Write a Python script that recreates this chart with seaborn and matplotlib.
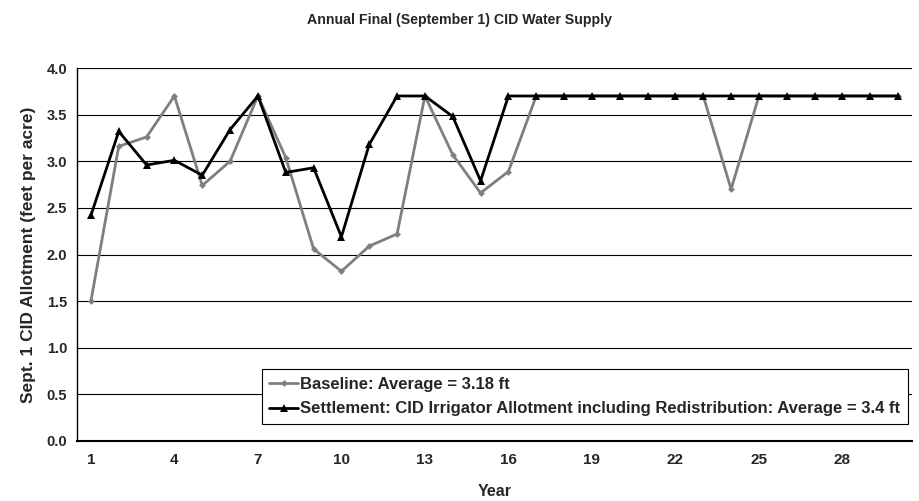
import matplotlib
matplotlib.use("Agg")
import matplotlib.pyplot as plt
import numpy as np
import pandas as pd
import seaborn as sns
from matplotlib.ticker import FixedLocator, FormatStrFormatter

years = list(range(1, 31))
baseline = [1.50, 3.16, 3.26, 3.70, 2.74, 3.00, 3.70, 3.04, 2.06, 1.82,
            2.09, 2.22, 3.70, 3.07, 2.66, 2.89, 3.70, 3.70, 3.70, 3.70,
            3.70, 3.70, 3.70, 2.70, 3.70, 3.70, 3.70, 3.70, 3.70, 3.70]
settlement = [2.42, 3.32, 2.96, 3.01, 2.85, 3.34, 3.70, 2.88, 2.93, 2.19,
              3.18, 3.70, 3.70, 3.48, 2.79, 3.70, 3.70, 3.70, 3.70, 3.70,
              3.70, 3.70, 3.70, 3.70, 3.70, 3.70, 3.70, 3.70, 3.70, 3.70]
labels = [
    "Baseline: Average = 3.18 ft",
    "Settlement: CID Irrigator Allotment including Redistribution: Average = 3.4 ft",
]
yticks = [0.0, 0.5, 1.0, 1.5, 2.0, 2.5, 3.0, 3.5, 4.0]
xtick_years = list(range(1, 31, 3))

sns.set_style("white")
plt.rcParams["font.family"] = ["Liberation Sans", "DejaVu Sans"]
plt.rcParams["font.weight"] = "bold"

df = pd.DataFrame({"Year": years, labels[0]: baseline, labels[1]: settlement})

fig = plt.figure(figsize=(9.2, 5.01), dpi=100)
ax = fig.add_axes([77 / 920, 1 - 441 / 501, 835 / 920, 373 / 501])

# horizontal gridlines, black like the original
for ax_y in yticks[1:]:
    ax.axhline(ax_y, color="black", linewidth=0.8, zorder=0)

sns.lineplot(data=df, x="Year", y=labels[0], ax=ax, color="#7f7f7f",
             marker="D", markersize=3.5, markeredgewidth=0, linewidth=2.0,
             label=labels[0])
sns.lineplot(data=df, x="Year", y=labels[1], ax=ax, color="black",
             marker="^", markersize=5.5, markeredgewidth=0, linewidth=2.0,
             label=labels[1])

ax.set_xlim(0.5, 30.5)
ax.set_ylim(0, 4.0)
ax.set_yticks(yticks)
ax.yaxis.set_major_formatter(FormatStrFormatter("%.1f"))
ax.set_xticks(xtick_years)
ax.xaxis.set_minor_locator(FixedLocator(np.arange(0.5, 31, 1)))
ax.tick_params(axis="x", which="major", length=0, pad=9, labelsize=11)
ax.tick_params(axis="x", which="minor", length=4, width=0.8, color="black",
               direction="out")
ax.tick_params(axis="y", which="major", length=4, width=0.8, color="black",
               direction="out", labelsize=10.5, pad=3)
for lab in ax.get_xticklabels() + ax.get_yticklabels():
    lab.set_fontweight("bold")

for s in ["top", "right"]:
    ax.spines[s].set_visible(False)
ax.spines["left"].set_color("black")
ax.spines["bottom"].set_color("black")
ax.spines["left"].set_linewidth(1.0)
ax.spines["bottom"].set_linewidth(1.5)

ax.set_xlabel("Year", fontsize=11.5, fontweight="bold", labelpad=12)
ax.set_ylabel("Sept. 1 CID Allotment (feet per acre)", fontsize=12.5,
              fontweight="bold", labelpad=8)
fig.suptitle("Annual Final (September 1) CID Water Supply", fontsize=10.2,
             fontweight="bold", y=0.975)

leg = ax.legend(loc="upper left", bbox_to_anchor=(185 / 835, 72 / 373),
                frameon=True, fancybox=False, framealpha=1, edgecolor="black",
                prop={"weight": "bold", "size": 12},
                handlelength=1.7, handletextpad=0.15, borderpad=0.45,
                labelspacing=0.6, borderaxespad=0)
leg.get_frame().set_linewidth(0.8)

fig.savefig("out.png", dpi=100)
